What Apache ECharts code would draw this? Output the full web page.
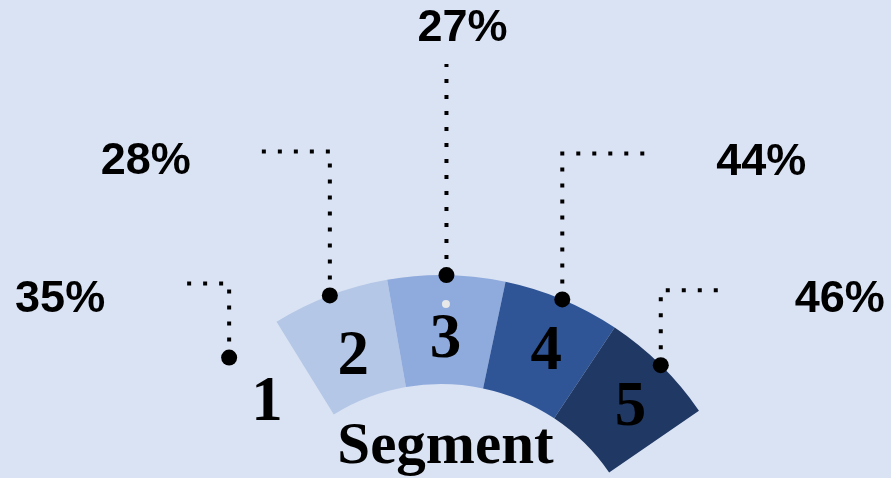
<!DOCTYPE html>
<html>
<head>
<meta charset="utf-8">
<script src="https://cdn.jsdelivr.net/npm/echarts@6/dist/echarts.min.js"></script>
<style>
  html, body { margin: 0; padding: 0; background: #dae3f3; }
  #chart { width: 891px; height: 478px; }
</style>
</head>
<body>
<div id="chart"></div>
<script>
const segmentNames = ['1', '2', '3', '4', '5'];
const segmentShares = [35, 28, 27, 44, 46];
const segmentWeights = [1, 1, 1, 1, 1]; // ring pieces are all the same size
const segmentColors = ['#dae3f3', '#b4c7e7', '#8faadc', '#2f5597', '#203864'];

// ring geometry (center sits below the canvas)
const ringCenter = [441, 588];
const ringRadius = [204, 313];
const ringStart = 143.5;
const ringEnd = 34.5;

// small nudges for the big segment numbers
const digitNudge = [[3, 8], [5, 14], [0, 14], [4, 6], [6, 7]];

// leader lines: go up from the dot, then sideways
const leaderRise = [74, 144, 211, 146, 75];
const leaderRun = [-47, -70, 0, 85, 61];
const labelShift = [[-77, 16], [-69, 10], [16, -35], [69, 9], [73, 9]];

// the little pale marker inside segment 3
const markerSegment = 2;
const markerInset = 29;

const chart = echarts.init(document.getElementById('chart'));

const totalWeight = segmentWeights.reduce((a, b) => a + b, 0);
let acc = 0;
const midAngles = segmentWeights.map(w => {
  const mid = ringStart - (ringStart - ringEnd) * (acc + w / 2) / totalWeight;
  acc += w;
  return mid;
});

const ringData = segmentNames.map((name, i) => ({
  name: name,
  value: segmentWeights[i],
  itemStyle: { color: segmentColors[i] },
  label: { offset: digitNudge[i] }
}));

const option = {
  backgroundColor: '#dae3f3',
  animation: false,
  title: {
    text: 'Segment',
    left: 'center',
    top: 413,
    textStyle: { fontFamily: 'Liberation Serif', fontWeight: 'bold', fontSize: 59, color: '#000' }
  },
  polar: { center: ringCenter, radius: ringRadius[1] },
  angleAxis: { type: 'value', min: 0, max: 360, startAngle: 0, clockwise: false, show: false },
  radiusAxis: { type: 'value', min: 0, max: ringRadius[1], show: false },
  series: [
    {
      // the ring with the segment numbers
      type: 'pie',
      center: ringCenter,
      radius: ringRadius,
      startAngle: ringStart,
      endAngle: ringEnd,
      silent: true,
      avoidLabelOverlap: false,
      itemStyle: { borderWidth: 0 },
      label: {
        position: 'inside',
        formatter: '{b}',
        color: '#000',
        fontFamily: 'Liberation Serif',
        fontWeight: 'bold',
        fontSize: 63
      },
      labelLine: { show: false },
      data: ringData
    },
    {
      // same ring, invisible, only carries the percent labels + dotted leaders
      type: 'pie',
      center: ringCenter,
      radius: ringRadius,
      startAngle: ringStart,
      endAngle: ringEnd,
      silent: true,
      avoidLabelOverlap: false,
      itemStyle: { color: 'transparent', borderWidth: 0 },
      label: {
        position: 'outside',
        formatter: p => segmentShares[p.dataIndex] + '%',
        color: '#000',
        fontFamily: 'Liberation Sans',
        fontWeight: 'bold',
        fontSize: 45
      },
      labelLine: {
        show: true,
        lineStyle: { color: '#000', width: 4, type: [4, 12], cap: 'butt' }
      },
      labelLayout: function (params) {
        const i = params.dataIndex;
        const p0 = params.labelLinePoints[0];
        const elbow = [p0[0], p0[1] - leaderRise[i]];
        const end = [p0[0] + leaderRun[i], elbow[1]];
        const shift = labelShift[i];
        const align = leaderRun[i] < 0 ? 'right' : (leaderRun[i] > 0 ? 'left' : 'center');
        return {
          x: end[0] + shift[0],
          y: end[1] + shift[1],
          align: align,
          verticalAlign: 'middle',
          labelLinePoints: [p0, elbow, end]
        };
      },
      data: ringData.map(d => ({ name: d.name, value: d.value }))
    },
    {
      // dots where the leaders meet the ring
      type: 'scatter',
      coordinateSystem: 'polar',
      silent: true,
      symbolSize: 16,
      itemStyle: { color: '#000', opacity: 1 },
      z: 5,
      data: midAngles.map(a => [ringRadius[1], a])
    },
    {
      type: 'scatter',
      coordinateSystem: 'polar',
      silent: true,
      symbolSize: 8,
      itemStyle: { color: '#e8e8e8', opacity: 1 },
      z: 5,
      data: [[ringRadius[1] - markerInset, midAngles[markerSegment]]]
    }
  ]
};

chart.setOption(option);
</script>
</body>
</html>
